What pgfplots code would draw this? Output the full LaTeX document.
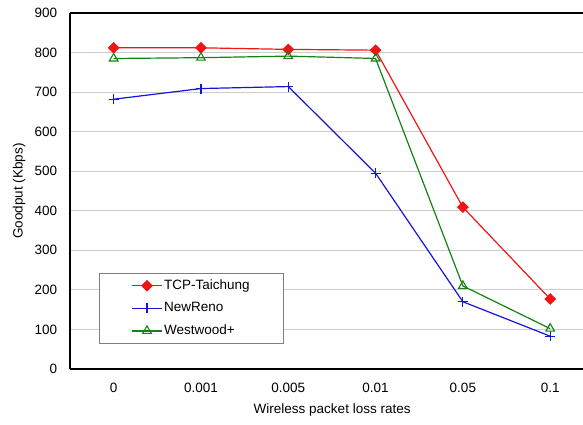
\documentclass[border=0pt]{standalone}
\usepackage{fontspec}
\setmainfont{Liberation Sans}
\usepackage{pgfplots}
\pgfplotsset{compat=1.18}
\usetikzlibrary{calc}
\definecolor{ttred}{RGB}{240,20,20}
\definecolor{nrblue}{RGB}{20,20,220}
\definecolor{wwgreen}{RGB}{20,130,20}
\definecolor{gridgray}{RGB}{205,205,205}

\begin{document}
\fontsize{13.5}{16}\selectfont
\begin{tikzpicture}
\begin{axis}[
  scale only axis,
  width=513pt, height=356pt,
  xmin=-0.5, xmax=5.376,
  ymin=0, ymax=900,
  axis x line=box, axis y line=left,
  y axis line style={-},
  every outer y axis line/.append style={-},
  axis line style={line width=1.3pt, black},
  xtick={0,1,2,3,4,5},
  xticklabels={0,0.001,0.005,0.01,0.05,0.1},
  xtick pos=bottom,
  major x tick style={draw=none},
  extra x ticks={0.5,1.5,2.5,3.5,4.5},
  extra x tick labels={},
  extra x tick style={grid=none, major tick length=5pt, tick style={black, line width=0.8pt}},
  ytick={0,100,...,900},
  ytick pos=left,
  major y tick style={draw=none},
  ymajorgrids,
  grid style={gridgray, line width=0.9pt},
  /pgf/number format/assume math mode=true,
  tick label style={font=\fontsize{13.5}{16}\selectfont},
  yticklabel style={xshift=-6pt},
  xticklabel style={yshift=-9pt},
  xlabel={Wireless packet loss rates},
  ylabel={Goodput (Kbps)},
  label style={font=\fontsize{13.5}{16}\selectfont},
  xlabel style={at={(ticklabel cs:0.511)}, yshift=-2pt},
  legend style={at={(0.0565,0.2697)}, anchor=north west, draw=gray, line width=0.8pt,
    inner xsep=32pt, inner ysep=4pt, row sep=6pt,
    font=\fontsize{13.5}{16}\selectfont,
    nodes={inner xsep=1.5pt, inner ysep=2.5pt, line width=0pt}},
  legend cell align=left,
  legend image code/.code={\draw[mark repeat=2,mark phase=2] plot coordinates {(0pt,0pt)(15pt,0pt)(30pt,0pt)};},
]
\addplot[ttred, line width=1.2pt, mark=diamond*, mark size=5pt, mark options={fill=ttred, solid, xscale=1.35}]
  coordinates {(0,812) (1,812) (2,808) (3,806) (4,409) (5,177)};
\addlegendentry{TCP-Taichung}
\addplot[nrblue, line width=1.2pt, mark=+, mark size=5pt, mark options={solid, line width=1.1pt}]
  coordinates {(0,682) (1,709) (2,714) (3,495) (4,170) (5,83)};
\addlegendentry{NewReno}
\addplot[wwgreen, line width=1.2pt, mark=triangle, mark size=5pt, mark options={solid, fill=white, line width=1.1pt}]
  coordinates {(0,785) (1,787) (2,791) (3,785) (4,210) (5,102)};
\addlegendentry{Westwood+}
\coordinate (bl) at (rel axis cs:0,0);
\end{axis}
\pgfresetboundingbox
\useasboundingbox ($(bl)+(-70pt,-56pt)$) rectangle ($(bl)+(513pt,369pt)$);
\end{tikzpicture}
\end{document}
